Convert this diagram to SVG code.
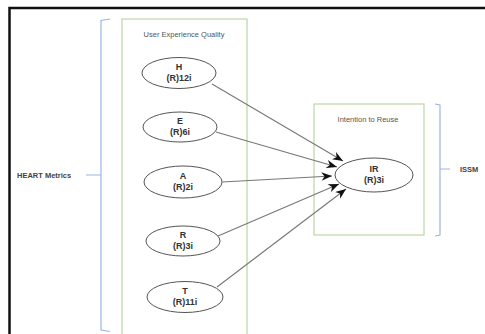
<svg xmlns="http://www.w3.org/2000/svg" width="485" height="334" viewBox="0 0 485 334">
<defs>
<style>
.frame{fill:none;stroke:#111;stroke-width:2.5}
.grp{fill:none;stroke:#b9d6a6;stroke-width:1.2}
.brk{fill:none;stroke:#9fb4e6;stroke-width:1.2}
.ell{fill:#fff;stroke:#555;stroke-width:1}
.lbl{font-family:"Liberation Sans",Arial,sans-serif;font-size:9px;font-weight:bold;fill:#333;text-anchor:middle}
.cap{font-family:"Liberation Sans",Arial,sans-serif;font-size:7.5px;fill:#555;text-anchor:middle}
.side{font-family:"Liberation Sans",Arial,sans-serif;font-size:7.5px;font-weight:bold;fill:#444}
.con{stroke:#777;stroke-width:1.1;fill:none;marker-end:url(#ah)}
</style>
<marker id="ah" viewBox="0 0 10 8" refX="10" refY="4" markerWidth="11" markerHeight="8.5" markerUnits="userSpaceOnUse" orient="auto">
<path d="M0,0 L10,4 L0,8 L3,4 Z" fill="#111"/>
</marker>
</defs>
<rect class="frame" x="9.5" y="8" width="500" height="340"/>
<g id="heart-bracket">
<path class="brk" d="M110,19 L101,20.5 L101,330 L110,331.5 M86,175 L101,175"/>
<text class="side" x="17" y="178">HEART Metrics</text>
</g>
<g id="ueq-group">
<rect class="grp" x="122" y="19" width="125" height="330"/>
<text class="cap" x="184" y="37">User Experience Quality</text>
</g>
<g id="node-H">
<ellipse class="ell" cx="179" cy="73" rx="37" ry="15.5"/>
<text class="lbl" x="179" y="70">H</text>
<text class="lbl" x="179" y="81">(R)12i</text>
</g>
<g id="node-E">
<ellipse class="ell" cx="180" cy="127" rx="37" ry="15"/>
<text class="lbl" x="180" y="124">E</text>
<text class="lbl" x="180" y="135">(R)6i</text>
</g>
<g id="node-A">
<ellipse class="ell" cx="183" cy="182" rx="39" ry="16"/>
<text class="lbl" x="183" y="179">A</text>
<text class="lbl" x="183" y="190">(R)2i</text>
</g>
<g id="node-R">
<ellipse class="ell" cx="183" cy="241" rx="37" ry="15"/>
<text class="lbl" x="183" y="238">R</text>
<text class="lbl" x="183" y="249">(R)3i</text>
</g>
<g id="node-T">
<ellipse class="ell" cx="185" cy="297" rx="38" ry="15.5"/>
<text class="lbl" x="185" y="294">T</text>
<text class="lbl" x="185" y="305">(R)11i</text>
</g>
<g id="itr-group">
<rect class="grp" x="314" y="104" width="110" height="131"/>
<text class="cap" x="368" y="122">Intention to Reuse</text>
</g>
<g id="node-IR">
<ellipse class="ell" cx="374" cy="175" rx="39" ry="17"/>
<text class="lbl" x="374" y="172">IR</text>
<text class="lbl" x="374" y="183">(R)3i</text>
</g>
<g id="issm-bracket">
<path class="brk" d="M435,104 L440,105 L440,235 L435,236 M440,169 L450,169"/>
<text class="side" x="460" y="172">ISSM</text>
</g>
<g id="connectors">
<line class="con" x1="212" y1="84" x2="343" y2="161"/>
<line class="con" x1="216" y1="132" x2="337" y2="167"/>
<line class="con" x1="222" y1="182" x2="332" y2="176"/>
<line class="con" x1="218" y1="236" x2="339" y2="184"/>
<line class="con" x1="217" y1="287" x2="346" y2="189"/>
</g>
</svg>
